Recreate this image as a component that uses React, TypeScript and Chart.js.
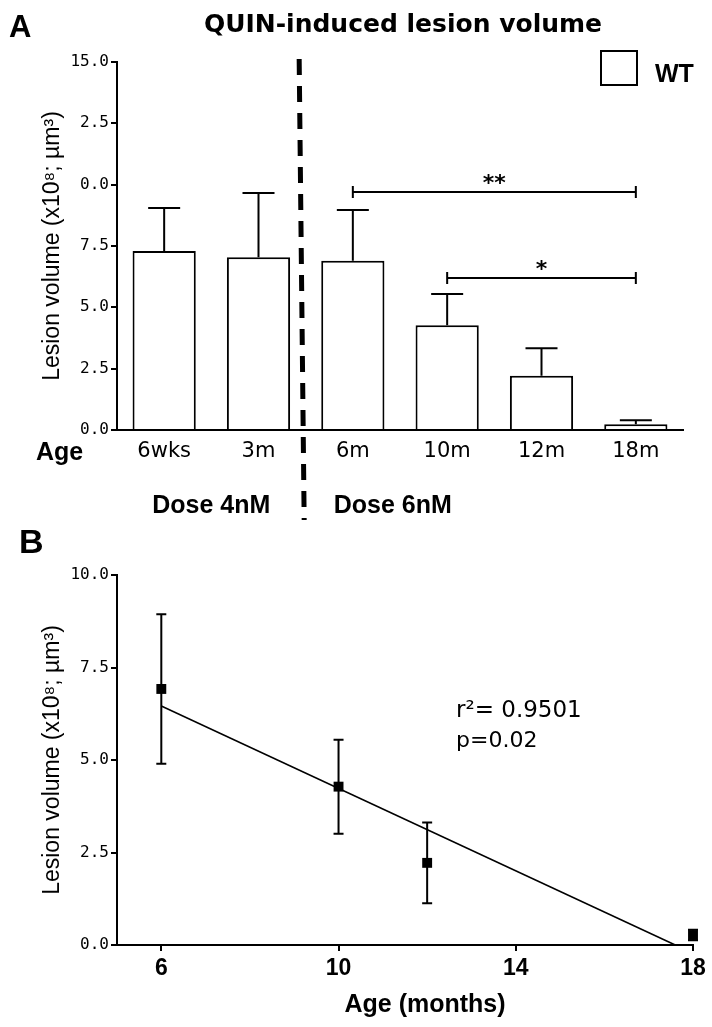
import React, { useEffect, useRef } from 'react';
import { Chart, registerables } from 'chart.js';

Chart.register(...registerables);

// ---------- Panel A data ----------
const ageCategories = ['6wks', '3m', '6m', '10m', '12m', '18m'];
const lesionMeanA = [7.3, 7.04, 6.9, 4.27, 2.21, 0.23];
const lesionSemA = [1.75, 2.62, 2.07, 1.27, 1.12, 0.17];
const yTickLabelsA = ['0.0', '2.5', '5.0', '7.5', '0.0', '2.5', '15.0'];
const doseLabels = ['Dose 4nM', 'Dose 6nM'];
const sigFromIdx = [2, 3];
const sigToIdx = [5, 5];
const sigLevel = [9.7, 6.2];
const sigMarks = ['**', '*'];
const legendLabel = 'WT';
const titleA = 'QUIN-induced lesion volume';
const yTitle = 'Lesion volume (x10\u2078; \u00b5m\u00b3)';

// ---------- Panel B data ----------
const monthsB = [6, 10, 12, 18];
const lesionMeanB = [6.92, 4.28, 2.22, 0.27];
const lesionSemB = [2.02, 1.27, 1.09, 0.14];
const fitMonths = [6, 17.6];
const fitLesion = [6.46, 0];
const xTicksB = [6, 10, 14, 18];
const statsText = ['r\u00b2= 0.9501', 'p=0.02'];
const xTitleB = 'Age (months)';

const SANS = '"Liberation Sans", Arial, sans-serif';
const DEJAVU = '"DejaVu Sans", sans-serif';
const MONO = '"DejaVu Sans Mono", monospace';
const NARROW = '"Liberation Sans Narrow", "Liberation Sans", Arial, sans-serif';

const W = 712;
const HA = 520;
const HB = 507;

const annotA = {
  id: 'annotA',
  afterDatasetsDraw(chart: any) {
    const ctx = chart.ctx;
    const xs = chart.scales.x;
    const ys = chart.scales.y;
    ctx.save();
    ctx.strokeStyle = '#000';
    ctx.lineWidth = 2;
    lesionMeanA.forEach((m, i) => {
      const x = xs.getPixelForValue(i);
      const y0 = ys.getPixelForValue(m);
      const y1 = ys.getPixelForValue(m + lesionSemA[i]);
      ctx.beginPath();
      ctx.moveTo(x, y0);
      ctx.lineTo(x, y1);
      ctx.moveTo(x - 16, y1);
      ctx.lineTo(x + 16, y1);
      ctx.stroke();
    });
    ctx.restore();
  },
  afterDraw(chart: any) {
    const ctx = chart.ctx;
    const xs = chart.scales.x;
    const ys = chart.scales.y;
    const area = chart.chartArea;
    ctx.save();
    ctx.fillStyle = '#000';
    ctx.strokeStyle = '#000';

    // significance brackets
    ctx.lineWidth = 2;
    sigFromIdx.forEach((f, k) => {
      const x1 = xs.getPixelForValue(f);
      const x2 = xs.getPixelForValue(sigToIdx[k]);
      const y = ys.getPixelForValue(sigLevel[k]);
      ctx.beginPath();
      ctx.moveTo(x1, y);
      ctx.lineTo(x2, y);
      ctx.moveTo(x1, y - 6);
      ctx.lineTo(x1, y + 6);
      ctx.moveTo(x2, y - 6);
      ctx.lineTo(x2, y + 6);
      ctx.stroke();
      ctx.font = `bold 22px ${DEJAVU}`;
      ctx.textAlign = 'center';
      ctx.textBaseline = 'alphabetic';
      ctx.fillText(sigMarks[k], (x1 + x2) / 2, y - 2);
    });

    // dashed separator between dose groups
    const midX = (xs.getPixelForValue(1) + xs.getPixelForValue(2)) / 2;
    ctx.save();
    ctx.lineWidth = 5;
    ctx.setLineDash([16, 11]);
    ctx.beginPath();
    ctx.moveTo(midX - 6.5, 59);
    ctx.lineTo(midX - 1.5, 520);
    ctx.stroke();
    ctx.restore();

    // panel letter and title
    ctx.textAlign = 'left';
    ctx.textBaseline = 'alphabetic';
    ctx.font = `bold 31px ${SANS}`;
    ctx.fillText('A', 9, 37);
    ctx.textAlign = 'center';
    ctx.font = `bold 25px ${DEJAVU}`;
    ctx.fillText(titleA, (area.left + area.right) / 2 + 3, 32);

    // legend
    ctx.lineWidth = 2;
    ctx.beginPath();
    ctx.rect(601, 51, 36, 34);
    ctx.stroke();
    ctx.textAlign = 'left';
    ctx.font = `bold 25px ${SANS}`;
    ctx.fillText(legendLabel, 655, 82);

    // Age label and dose labels
    ctx.fillText('Age', 36, 460);
    ctx.textAlign = 'center';
    ctx.fillText(doseLabels[0], (xs.getPixelForValue(0) + xs.getPixelForValue(1)) / 2, 513);
    ctx.textAlign = 'left';
    ctx.fillText(doseLabels[1], midX + 28, 513);

    // y title
    ctx.save();
    ctx.translate(53, (area.top + area.bottom) / 2);
    ctx.rotate(-Math.PI / 2);
    ctx.textAlign = 'center';
    ctx.textBaseline = 'middle';
    ctx.font = `23px ${SANS}`;
    ctx.fillText(yTitle, 0, 0);
    ctx.restore();

    ctx.restore();
  },
};

const annotB = {
  id: 'annotB',
  beforeDatasetsDraw(chart: any) {
    const ctx = chart.ctx;
    const xs = chart.scales.x;
    const ys = chart.scales.y;
    ctx.save();
    ctx.strokeStyle = '#000';
    ctx.lineWidth = 2;
    monthsB.forEach((mo, i) => {
      const x = xs.getPixelForValue(mo);
      const yTop = ys.getPixelForValue(lesionMeanB[i] + lesionSemB[i]);
      const yBot = ys.getPixelForValue(lesionMeanB[i] - lesionSemB[i]);
      ctx.beginPath();
      ctx.moveTo(x, yTop);
      ctx.lineTo(x, yBot);
      ctx.moveTo(x - 5, yTop);
      ctx.lineTo(x + 5, yTop);
      ctx.moveTo(x - 5, yBot);
      ctx.lineTo(x + 5, yBot);
      ctx.stroke();
    });
    ctx.restore();
  },
  afterDraw(chart: any) {
    const ctx = chart.ctx;
    const area = chart.chartArea;
    ctx.save();
    ctx.fillStyle = '#000';
    ctx.textAlign = 'left';
    ctx.textBaseline = 'alphabetic';
    ctx.font = `bold 34px ${SANS}`;
    ctx.fillText('B', 19, 33);

    ctx.font = `23px ${DEJAVU}`;
    ctx.fillText(statsText[0], 456, 197);
    ctx.font = `22px ${DEJAVU}`;
    ctx.fillText(statsText[1], 456, 227);

    ctx.textAlign = 'center';
    ctx.font = `bold 25px ${SANS}`;
    ctx.fillText(xTitleB, 425, 492);

    ctx.save();
    ctx.translate(53, (area.top + area.bottom) / 2);
    ctx.rotate(-Math.PI / 2);
    ctx.textAlign = 'center';
    ctx.textBaseline = 'middle';
    ctx.font = `23px ${SANS}`;
    ctx.fillText(yTitle, 0, 0);
    ctx.restore();
    ctx.restore();
  },
};

export default function App() {
  const refA = useRef<HTMLCanvasElement | null>(null);
  const refB = useRef<HTMLCanvasElement | null>(null);

  useEffect(() => {
    const axisGrid = {
      display: true,
      drawOnChartArea: false,
      drawTicks: true,
      tickLength: 6,
      color: '#000',
      lineWidth: 2,
    };

    const chartA = new Chart(refA.current as HTMLCanvasElement, {
      type: 'bar',
      data: {
        labels: ageCategories,
        datasets: [
          {
            label: legendLabel,
            data: lesionMeanA,
            backgroundColor: '#ffffff',
            borderColor: '#000000',
            borderWidth: 2,
            barPercentage: 0.67,
            categoryPercentage: 1,
          },
        ],
      },
      options: {
        responsive: false,
        animation: false,
        devicePixelRatio: 1,
        layout: { padding: { left: 0, right: 29, top: 62, bottom: 0 } },
        plugins: { legend: { display: false }, tooltip: { enabled: false }, title: { display: false } },
        scales: {
          x: {
            grid: { display: false, drawTicks: false },
            border: { display: true, color: '#000', width: 2 },
            ticks: { color: '#000', font: { family: DEJAVU, size: 21 }, padding: 9, maxRotation: 0 },
            afterFit: (s: any) => {
              s.height = HA - 62 - 368;
            },
          },
          y: {
            min: 0,
            max: 15,
            grid: axisGrid,
            border: { display: true, color: '#000', width: 2 },
            ticks: {
              stepSize: 2.5,
              color: '#000',
              font: { family: MONO, size: 16 },
              padding: 2,
              callback: (_v: any, i: number) => yTickLabelsA[i],
            },
            afterFit: (s: any) => {
              s.width = 117;
            },
          },
        },
      },
      plugins: [annotA],
    } as any);

    const chartB = new Chart(refB.current as HTMLCanvasElement, {
      type: 'scatter',
      data: {
        datasets: [
          {
            label: 'fit',
            data: fitMonths.map((m, i) => ({ x: m, y: fitLesion[i] })),
            showLine: true,
            borderColor: '#000',
            borderWidth: 1.5,
            pointRadius: 0,
            clip: false,
          },
          {
            label: 'WT',
            data: monthsB.map((m, i) => ({ x: m, y: lesionMeanB[i] })),
            showLine: false,
            pointStyle: 'rect',
            pointRadius: 7,
            backgroundColor: '#000',
            borderColor: '#000',
            borderWidth: 0,
            clip: false,
          },
        ],
      },
      options: {
        responsive: false,
        animation: false,
        devicePixelRatio: 1,
        layout: { padding: { left: 0, right: 19, top: 55, bottom: 0 } },
        plugins: { legend: { display: false }, tooltip: { enabled: false }, title: { display: false } },
        scales: {
          x: {
            type: 'linear',
            min: 5,
            max: 18,
            grid: axisGrid,
            border: { display: true, color: '#000', width: 2 },
            afterBuildTicks: (s: any) => {
              s.ticks = xTicksB.map((v) => ({ value: v }));
            },
            ticks: {
              color: '#000',
              font: { family: NARROW, size: 23, weight: 'bold' },
              padding: 4,
              maxRotation: 0,
              autoSkip: false,
              callback: (v: any) => String(v),
            },
            afterFit: (s: any) => {
              s.height = HB - 55 - 370;
            },
          },
          y: {
            min: 0,
            max: 10,
            grid: axisGrid,
            border: { display: true, color: '#000', width: 2 },
            ticks: {
              stepSize: 2.5,
              color: '#000',
              font: { family: MONO, size: 16 },
              padding: 2,
              callback: (v: any) => Number(v).toFixed(1),
            },
            afterFit: (s: any) => {
              s.width = 117;
            },
          },
        },
      },
      plugins: [annotB],
    } as any);

    return () => {
      chartA.destroy();
      chartB.destroy();
    };
  }, []);

  return (
    <div style={{ position: 'absolute', left: 0, top: 0, width: W, height: HA + HB, background: '#fff' }}>
      <canvas ref={refA} width={W} height={HA} style={{ display: 'block', width: W, height: HA }} />
      <canvas ref={refB} width={W} height={HB} style={{ display: 'block', width: W, height: HB }} />
    </div>
  );
}
